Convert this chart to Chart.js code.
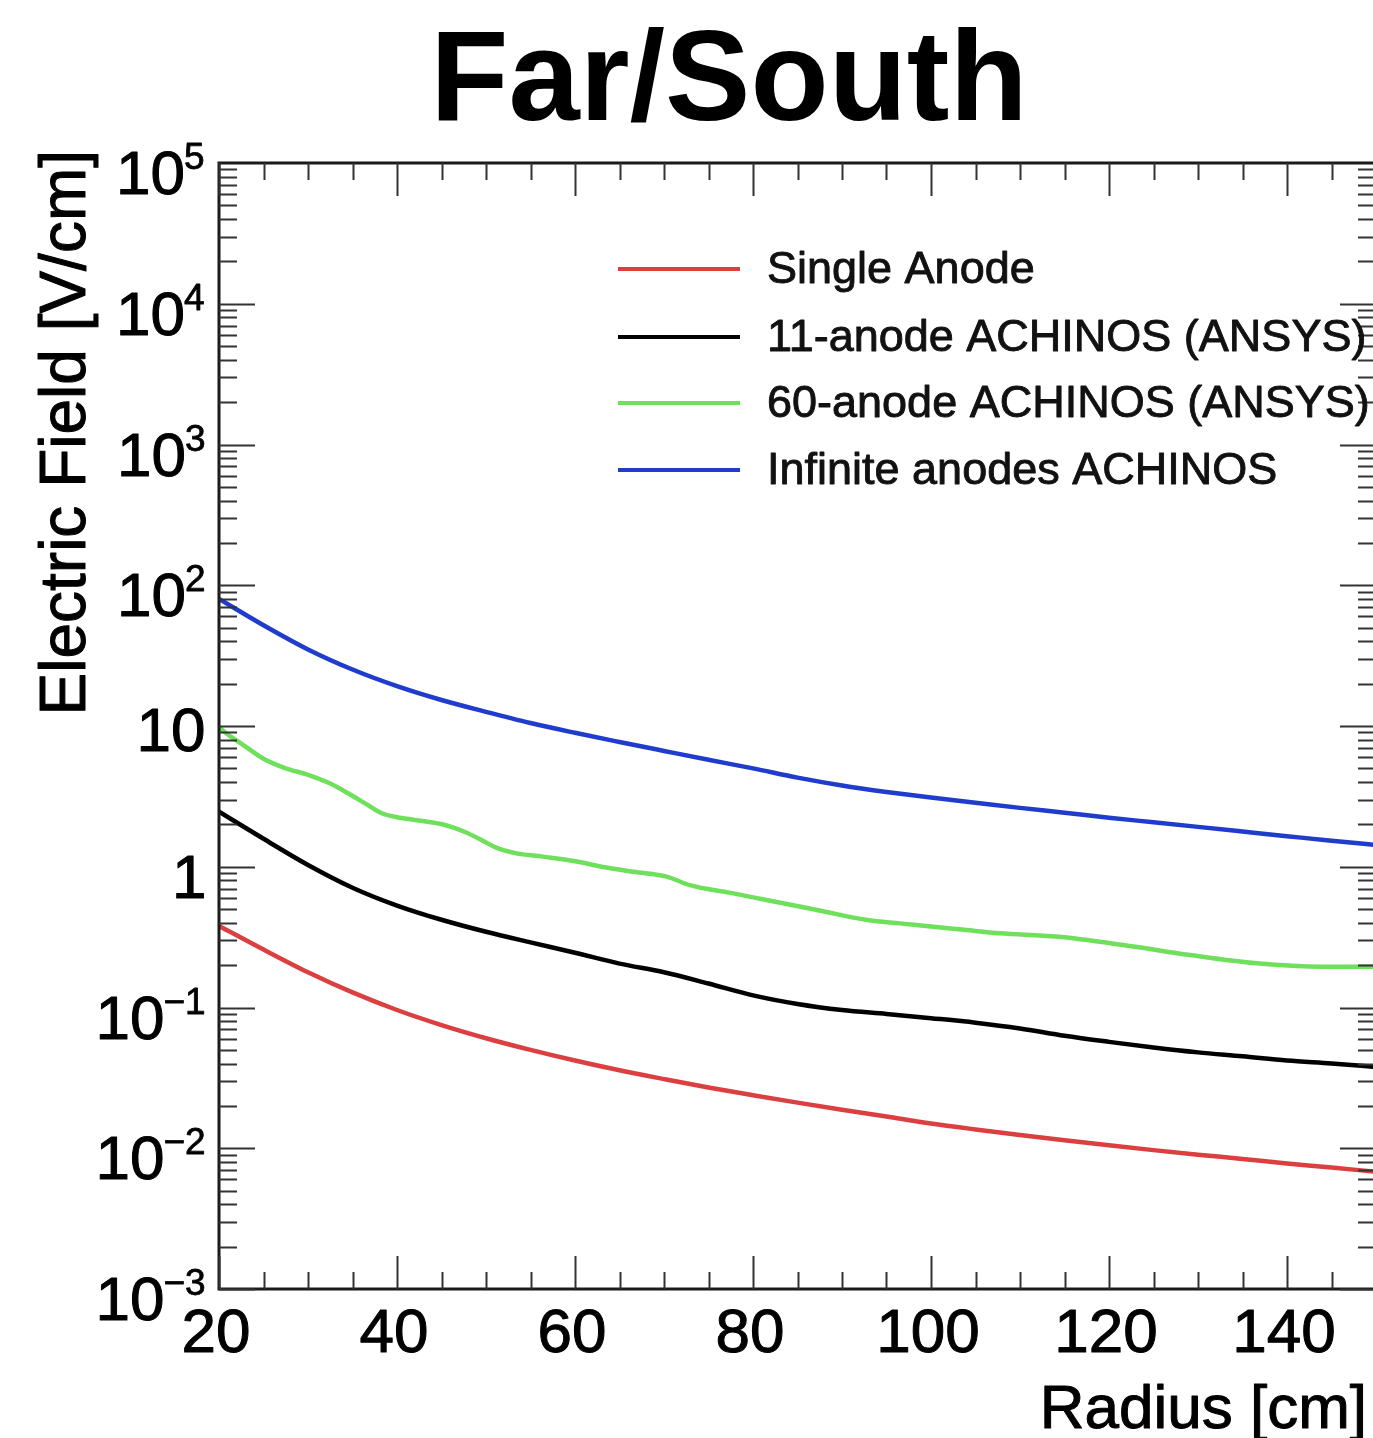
<!DOCTYPE html>
<html>
<head>
<meta charset="utf-8">
<script src="https://cdn.jsdelivr.net/npm/chart.js@4.4.1/dist/chart.umd.min.js"></script>
<style>
  html, body { margin: 0; padding: 0; background: #ffffff; overflow: hidden; }
  #wrap { position: relative; width: 1380px; height: 1438px; }
</style>
</head>
<body>
<div id="wrap"><canvas id="c"></canvas></div>
<script>
// ---------------- DATA ----------------
const chartTitle = "Far/South";
const xTitle = "Radius [cm]";
const yTitle = "Electric Field [V/cm]";

const seriesNames = ["Single Anode", "11-anode ACHINOS (ANSYS)", "60-anode ACHINOS (ANSYS)", "Infinite anodes ACHINOS"];
const seriesColors = ["#dc3f3f", "#000000", "#6fe05c", "#1f3ccc"];

const radiusSingle = [20,25,30,35,40,45,50,55,60,65,70,75,80,85,90,95,100,105,110,115,120,125,130,135,140,145,150];
const fieldSingle  = [0.38,0.258,0.178,0.128,0.096,0.075,0.0605,0.05,0.042,0.0358,0.031,0.027,0.0238,0.0211,0.0188,0.0168,0.015,0.0136,0.0124,0.0114,0.0105,0.0097,0.009,0.0084,0.0078,0.0073,0.0068];

const radius11 = [20,25,30,35,40,45,50,55,60,65,70,75,80,85,90,95,100,105,110,115,120,125,130,135,140,145,150];
const field11  = [2.46,1.58,1.03,0.71,0.53,0.42,0.345,0.29,0.245,0.205,0.178,0.148,0.122,0.106,0.096,0.09,0.084,0.078,0.071,0.063,0.057,0.052,0.048,0.045,0.042,0.04,0.0378];

const radius60 = [20,21,22.5,25,27.5,30,32.5,34.5,36.5,38.3,40,42,45.4,47.5,49.5,51,53.3,56.4,60.2,63,66.6,70.3,72.9,77.8,81.5,87.2,92.8,96.5,100.3,104,107.75,114.1,121.6,129.1,136.6,144.1,150];
const field60  = [9.8,8.7,7.5,5.85,5.0,4.5,3.9,3.33,2.8,2.4,2.25,2.15,1.98,1.78,1.55,1.38,1.25,1.18,1.09,1.0,0.92,0.85,0.74,0.647,0.58,0.493,0.419,0.396,0.375,0.355,0.337,0.319,0.278,0.236,0.206,0.195,0.195];

const radiusInf = [20,25,30,35,40,45,50,55,60,65,70,75,80,85,90,95,100,105,110,115,120,125,130,135,140,145,150];
const fieldInf  = [80,52,35,25.2,19.2,15.3,12.6,10.5,8.95,7.7,6.65,5.75,5.0,4.3,3.78,3.4,3.1,2.85,2.62,2.42,2.23,2.07,1.92,1.78,1.65,1.53,1.43];

const xMajorTicks = [20,40,60,80,100,120,140];
const xMinorStep = 5;
const yDecades = [5,4,3,2,1,0,-1,-2,-3];

// ---------------- BUILD ----------------
function pts(xs, ys) { return xs.map((x, i) => ({ x: x, y: ys[i] })); }
const allX = [radiusSingle, radius11, radius60, radiusInf];
const allY = [fieldSingle, field11, field60, fieldInf];

const datasets = seriesNames.map((name, i) => ({
  label: name,
  data: pts(allX[i], allY[i]),
  borderColor: seriesColors[i],
  backgroundColor: seriesColors[i],
  borderWidth: 4.5,
  pointRadius: 0,
  fill: false,
  cubicInterpolationMode: 'monotone'
}));

const FONT = '"Liberation Sans", Arial, Helvetica, sans-serif';

function heavyText(ctx, t, x, y, w) {
  ctx.lineWidth = w;
  ctx.lineJoin = 'round';
  ctx.strokeStyle = ctx.fillStyle;
  ctx.strokeText(t, x, y);
  ctx.fillText(t, x, y);
}

const decorPlugin = {
  id: 'decor',
  afterDatasetsDraw(chart) {
    const ctx = chart.ctx;
    const xs = chart.scales.x, ys = chart.scales.y;
    const a = chart.chartArea;
    ctx.save();
    // frame
    ctx.strokeStyle = '#1a1a1a';
    ctx.lineWidth = 3;
    ctx.strokeRect(a.left, a.top, a.right - a.left, a.bottom - a.top);
    // x ticks
    ctx.lineWidth = 2;
    ctx.strokeStyle = '#333';
    for (let v = xs.min; v <= xs.max + 1e-9; v += xMinorStep) {
      const px = Math.round(xs.getPixelForValue(v)) + 0.5;
      const major = xMajorTicks.includes(v);
      const len = major ? 33 : 17;
      ctx.beginPath();
      ctx.moveTo(px, a.bottom); ctx.lineTo(px, a.bottom - len);
      ctx.moveTo(px, a.top); ctx.lineTo(px, a.top + len);
      ctx.stroke();
    }
    // y ticks (log)
    for (let d = -3; d <= 4; d++) {
      for (let m = 1; m <= 9; m++) {
        const v = m * Math.pow(10, d);
        const py = Math.round(ys.getPixelForValue(v)) + 0.5;
        const len = m === 1 ? 36 : 18;
        ctx.beginPath();
        ctx.moveTo(a.left, py); ctx.lineTo(a.left + len, py);
        ctx.moveTo(a.right, py); ctx.lineTo(a.right - len, py);
        ctx.stroke();
      }
    }
    // x tick labels
    ctx.fillStyle = '#000';
    ctx.font = '62px ' + FONT;
    ctx.textAlign = 'center';
    ctx.textBaseline = 'alphabetic';
    xMajorTicks.forEach(v => {
      heavyText(ctx, String(v), xs.getPixelForValue(v) - 3, a.bottom + 63, 1);
    });
    // y tick labels
    const rightInk = 204;
    yDecades.forEach(e => {
      const py = ys.getPixelForValue(Math.pow(10, e));
      ctx.textAlign = 'left';
      if (e === 0 || e === 1) {
        const t = e === 0 ? '1' : '10';
        ctx.font = '62px ' + FONT;
        const m = ctx.measureText(t);
        heavyText(ctx, t, rightInk - m.actualBoundingBoxRight, py + (e === 1 ? 25 : 31), 1);
      } else {
        const ex = e < 0 ? '\u2212' + String(-e) : String(e);
        ctx.font = '37px ' + FONT;
        const me = ctx.measureText(ex);
        const exX = rightInk - me.actualBoundingBoxRight;
        heavyText(ctx, ex, exX, py + 6, 0.8);
        ctx.font = '62px ' + FONT;
        const mb = ctx.measureText('10');
        heavyText(ctx, '10', exX - mb.width + 1, py + 31, 1);
      }
    });
    // axis titles
    ctx.font = '62px ' + FONT;
    ctx.textAlign = 'right';
    heavyText(ctx, xTitle, 1367, 1428, 1);
    ctx.save();
    ctx.translate(85, 150);
    ctx.rotate(-Math.PI / 2);
    ctx.font = '64px ' + FONT;
    ctx.textAlign = 'right';
    heavyText(ctx, yTitle, 0, 0, 1);
    ctx.restore();
    // title
    ctx.font = 'bold 128px ' + FONT;
    ctx.textAlign = 'center';
    ctx.fillText(chartTitle, 729, 120);
    // legend
    const legY = [269, 337, 403, 470];
    chart.data.datasets.forEach((ds, i) => {
      ctx.strokeStyle = ds.borderColor;
      ctx.lineWidth = 4;
      ctx.beginPath();
      ctx.moveTo(618, legY[i]); ctx.lineTo(740, legY[i]);
      ctx.stroke();
      ctx.fillStyle = '#111';
      ctx.font = '45px ' + FONT;
      ctx.textAlign = 'left';
      ctx.textBaseline = 'middle';
      heavyText(ctx, ds.label, 767, legY[i] + 2, 0.9);
      ctx.textBaseline = 'alphabetic';
    });
    ctx.restore();
  }
};

new Chart(document.getElementById('c'), {
  type: 'line',
  data: { datasets: datasets },
  options: {
    responsive: true,
    maintainAspectRatio: false,
    animation: false,
    devicePixelRatio: 1,
    layout: { padding: { left: 219, right: 4, top: 163, bottom: 149 } },
    plugins: { legend: { display: false }, title: { display: false }, tooltip: { enabled: false } },
    scales: {
      x: { type: 'linear', min: 20, max: 150, display: false },
      y: { type: 'logarithmic', min: 1e-3, max: 1e5, display: false }
    }
  },
  plugins: [decorPlugin]
});
</script>
</body>
</html>
